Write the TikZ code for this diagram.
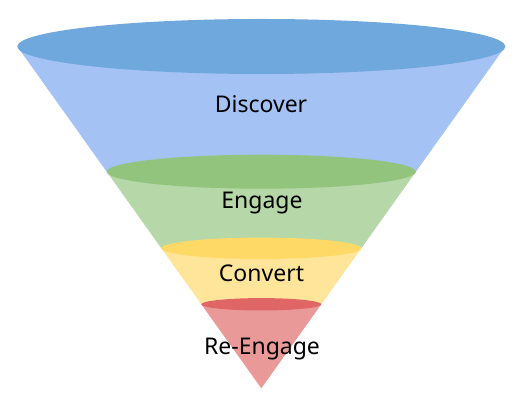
\documentclass[tikz,border=0pt]{standalone}
\usepackage{fontspec}
\setmainfont{Noto Sans}
\usetikzlibrary{positioning}
\definecolor{discover-top}{HTML}{6FA8DC}
\definecolor{discover-side}{HTML}{A4C2F4}
\definecolor{engage-top}{HTML}{93C47D}
\definecolor{engage-side}{HTML}{B6D7A8}
\definecolor{convert-top}{HTML}{FFD966}
\definecolor{convert-side}{HTML}{FFE599}
\definecolor{reengage-top}{HTML}{E06666}
\definecolor{reengage-side}{HTML}{EA9999}

\begin{document}
\begin{tikzpicture}[x=1pt, y=1pt,
  stage/.style={inner sep=0pt, anchor=base, text=black, font=\fontsize{23}{27}\selectfont}]
\useasboundingbox (0,0) rectangle (526,406);

% cone sections, top to bottom
\fill [discover-side] (17.3,359.5) -- (505.3,359.5) -- (415.9,234.3) -- (106.7,234.3) -- cycle;
\fill [discover-top] (261.3,359.5) ellipse [x radius=244, y radius=27.5];

\fill [engage-side] (106.7,234.3) -- (415.9,234.3) -- (361.3,157.7) -- (161.3,157.7) -- cycle;
\fill [engage-top] (261.3,234.3) ellipse [x radius=154.6, y radius=17];

\fill [convert-side] (161.3,157.7) -- (361.3,157.7) -- (321.3,101.7) -- (201.3,101.7) -- cycle;
\fill [convert-top] (261.3,157.7) ellipse [x radius=100, y radius=10.7];

\fill [reengage-side] (201.3,101.7) -- (321.3,101.7) -- (261.3,17.7) -- cycle;
\fill [reengage-top] (261.3,101.7) ellipse [x radius=60, y radius=6.2];

% labels
\node [stage] (discover) at (261,293.3) {Discover};
\node [stage] (engage) at (262,197) {Engage};
\node [stage] (convert) at (261.5,124.3) {Convert};
\node [stage] (reengage) at (262,51) {Re-Engage};

\end{tikzpicture}
\end{document}
